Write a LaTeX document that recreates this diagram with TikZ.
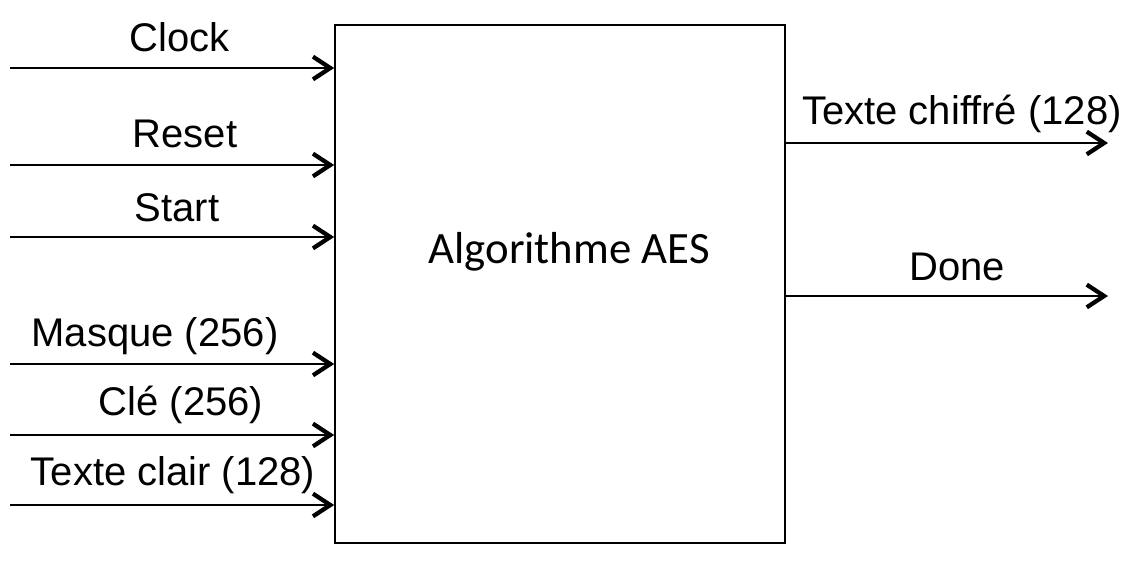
\documentclass[tikz,border=0pt]{standalone}
\usepackage{fontspec}
\setmainfont{Liberation Sans}
\newfontfamily\boxfont{Carlito}
\usetikzlibrary{arrows.meta, positioning}
\tikzset{
        signal/.style={
                line width=1.6pt,
                -{Straight Barb[length=13pt,width=17pt,line width=3.2pt]},
        },
        signal label/.style={
                anchor=base,
                inner sep=0pt,
                font=\fontsize{30}{35}\selectfont,
        },
        block/.style={
                draw,
                line width=1.2pt,
                minimum width={450*0.75pt},
                minimum height={518*0.75pt},
                inner sep=0pt,
        },
}
\begin{document}
\begin{tikzpicture}[x=0.75pt, y=-0.75pt]
    \useasboundingbox (0,0) rectangle (1146,564);
    % the AES block
    \node [block] (aes) at (560,284) {};
    \node [font=\boxfont\fontsize{33.6}{40}\selectfont] (name) at (569,252) {Algorithme AES};
    % inputs
    \coordinate (clock) at (10,68);
    \coordinate (reset) at (10,165);
    \coordinate (start) at (10,237);
    \coordinate (mask) at (10,364);
    \coordinate (key) at (10,435);
    \coordinate (plain) at (10,505);
    \foreach \s in {clock, reset, start, mask, key, plain}
        \draw [signal] (\s) -- (\s -| aes.west);
    \node [signal label] (clock label) at (180,51) {Clock};
    \node [signal label] (reset label) at (185,147) {Reset};
    \node [signal label] (start label) at (177,221) {Start};
    \node [signal label] (mask label) at (155,346) {Masque (256)};
    \node [signal label] (key label) at (181,415) {Clé (256)};
    \node [signal label] (plain label) at (173,485) {Texte clair (128)};
    % outputs
    \coordinate (cipher) at (1108,143);
    \coordinate (done) at (1108,296);
    \foreach \s in {cipher, done}
        \draw [signal] (\s -| aes.east) -- (\s);
    \node [signal label] (cipher label) at (962,124) {Texte chiffré (128)};
    \node [signal label] (done label) at (957,280) {Done};
\end{tikzpicture}
\end{document}
